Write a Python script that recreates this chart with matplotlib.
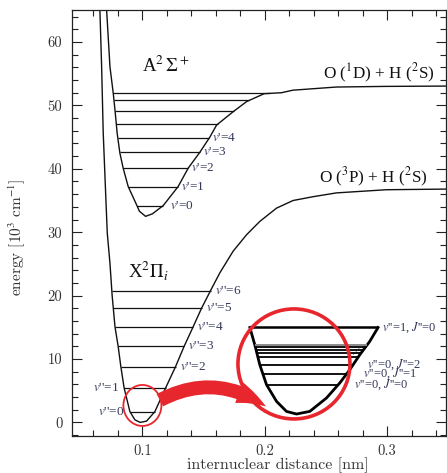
import numpy as np
import matplotlib
matplotlib.use("Agg")
import matplotlib.pyplot as plt
from matplotlib.ticker import MultipleLocator
from matplotlib.patches import Ellipse, FancyArrowPatch, ArrowStyle

plt.rcParams['mathtext.fontset'] = 'stix'
plt.rcParams['font.family'] = ['Liberation Serif', 'DejaVu Serif']

# ---------------- data ----------------
# ground state X^2Pi_i potential curve: r [nm], E [10^3 cm^-1]
X_r = [0.0653, 0.0667, 0.0680, 0.0702, 0.0713, 0.0735, 0.0753, 0.0776, 0.0802,
       0.0824, 0.0851, 0.0898, 0.0939, 0.0982, 0.1034, 0.1102, 0.1189, 0.1271,
       0.1341, 0.1415, 0.1483, 0.1557, 0.1633, 0.1741, 0.1851, 0.1959, 0.2096,
       0.2231, 0.2394, 0.2585, 0.2993, 0.3478]
X_E = [65.0, 56.1, 45.7, 35.1, 29.9, 25.1, 20.0, 15.1, 12.0,
       8.8, 5.4, 1.7, 0.4, 0.0, 0.2, 1.7, 5.4, 8.8,
       12.0, 15.1, 18.0, 20.8, 23.6, 27.0, 29.6, 31.7, 33.8,
       35.0, 35.6, 36.2, 36.7, 36.8]

# excited state A^2Sigma^+ potential curve
A_r = [0.0708, 0.0735, 0.0762, 0.0776, 0.0794, 0.0816, 0.0843, 0.0884, 0.0953,
       0.0976, 0.1026, 0.1082, 0.1170, 0.1292, 0.1374, 0.1469, 0.1551, 0.1606,
       0.1741, 0.1851, 0.1995, 0.2136, 0.2229, 0.2585, 0.2993, 0.3478]
A_E = [65.0, 56.1, 51.9, 49.3, 45.6, 42.5, 40.1, 37.2, 34.3,
       33.3, 32.5, 32.9, 34.2, 37.2, 40.1, 42.6, 45.0, 46.9,
       49.0, 50.6, 51.85, 52.0, 52.4, 52.9, 53.0, 53.05]

# vibrational levels
X_levels = [1.7, 5.4, 8.8, 12.0, 15.1, 18.0, 20.8]
X_labels = ["0", "1", "2", "3", "4", "5", "6"]
A_levels = [34.2, 37.2, 40.1, 42.6, 44.9, 47.1, 49.1, 50.8, 51.9]
A_labels = ["0", "1", "2", "3", "4"]

# magnified inset (schematic) potential and rotational levels
inset_r = [0.1878, 0.1918, 0.1959, 0.2014, 0.2096, 0.2177, 0.2259, 0.2367,
           0.2504, 0.2612, 0.2694, 0.2776, 0.2857, 0.2925]
inset_E = [14.97, 12.25, 9.09, 5.94, 3.31, 1.73, 1.32, 1.73,
           3.85, 6.21, 8.31, 10.67, 12.77, 14.97]
inset_levels = [14.97, 12.25, 11.82, 11.35, 10.87, 10.24, 9.09, 7.63, 5.94]
inset_labels = {14.97: ("1", "0"), 9.09: ("0", "2"), 7.63: ("0", "1"), 5.94: ("0", "0")}

# ---------------- figure ----------------
W, H = 447, 473
fig = plt.figure(figsize=(W / 100, H / 100), dpi=100)
ax = fig.add_axes([72 / W, 1 - 435.7 / H, (446 - 72) / W, 425.7 / H])
ax.set_xlim(0.0425, 0.348)
ax.set_ylim(-2.1, 65.05)

RED = '#e7272d'
LAB = '#34385a'


def branch_ends(r, E, levels):
    r = np.asarray(r); E = np.asarray(E)
    i = int(np.argmin(E))
    lr, le = r[:i + 1][::-1], E[:i + 1][::-1]
    rr, re = r[i:], E[i:]
    return np.interp(levels, le, lr), np.interp(levels, re, rr)


def vlab(sym, primes, val):
    return r"$" + sym + r"$" + "'" * primes + "=" + val


# potential curves
ax.plot(X_r, X_E, color='#111111', lw=1.0, solid_joinstyle='round')
ax.plot(A_r, A_E, color='#111111', lw=1.0, solid_joinstyle='round')

# levels
xl, xr = branch_ends(X_r, X_E, X_levels)
ax.hlines(X_levels, xl, xr, color='#111111', lw=0.9)
al, ar = branch_ends(A_r, A_E, A_levels)
ax.hlines(A_levels, al, ar, color='#111111', lw=0.9)

# level labels
lab_fs = 9.5
for k, lab in enumerate(X_labels):
    txt = vlab("v", 2, lab)
    if k < 2:
        ax.annotate(txt, (xl[k], X_levels[k]), xytext=(-4, 0), textcoords='offset points',
                    ha='right', va='center', fontsize=lab_fs, color=LAB)
    else:
        ax.annotate(txt, (xr[k], X_levels[k]), xytext=(3, 0), textcoords='offset points',
                    ha='left', va='center', fontsize=lab_fs, color=LAB)
for k, lab in enumerate(A_labels):
    off = 5 if k == 0 else 2
    ax.annotate(vlab("v", 1, lab), (ar[k], A_levels[k]), xytext=(off, 0),
                textcoords='offset points', ha='left', va='center',
                fontsize=lab_fs, color=LAB)

# state labels
ax.text(0.0993, 55.3, r"A$^2\,\Sigma^+$", fontsize=13.5, ha='left', va='baseline', color='#111111')
ax.text(0.0884, 22.9, r"X$^2\Pi_i$", fontsize=13.5, ha='left', va='baseline', color='#111111')
ax.text(0.2474, 54.16, r"O ($^1$D) + H ($^2$S)", fontsize=12.3, ha='left', va='baseline', color='#111111')
ax.text(0.2443, 37.73, r"O ($^3$P) + H ($^2$S)", fontsize=12.3, ha='left', va='baseline', color='#111111')

# small red circle and big red circle (pixel radii converted to data units)
px_x = (0.348 - 0.0425) / 374.0
px_y = (65.05 + 2.1) / 425.7
ax.add_patch(Ellipse((0.1000, 2.67), 2 * 19 * px_x, 2 * 20.5 * px_y, fill=False,
                     ec=RED, lw=1.3, zorder=4))
# inset curve & levels
il, ir = branch_ends(inset_r, inset_E, inset_levels)
ax.plot(inset_r, inset_E, color='black', lw=2.0, zorder=5, solid_joinstyle='round')
for k, e in enumerate(inset_levels):
    if k == 0:
        c, lw = 'black', 1.8
    elif k == 1:
        c, lw = '#8a8a8a', 1.4
    else:
        c, lw = 'black', 1.3
    ax.hlines(e, il[k], ir[k], color=c, lw=lw, zorder=5)
offs = {14.97: 3, 9.09: 10, 7.63: 12, 5.94: 11}
for e, (vv, jj) in inset_labels.items():
    k = inset_levels.index(e)
    t = vlab("v", 2, vv) + ", " + vlab("J", 2, jj)
    ax.annotate(t, (ir[k], e), xytext=(offs[e], 0), textcoords='offset points',
                ha='left', va='center', fontsize=9, color=LAB, zorder=6)
ax.text(0.2745, 11.2, "⋰", fontsize=6, color='#777777', ha='center', va='center', zorder=6,
        family='DejaVu Sans')

ax.add_patch(Ellipse((0.2238, 9.22), 2 * 56 * px_x, 2 * 55 * px_y, fill=False,
                     ec=RED, lw=2.6, zorder=6))

# curved red arrow
arrow = FancyArrowPatch((0.1143, 3.5), (0.2010, 2.5),
                        arrowstyle=ArrowStyle.Simple(head_length=22, head_width=16, tail_width=10),
                        connectionstyle='arc3,rad=-0.3', color=RED, lw=0,
                        shrinkA=0, shrinkB=0, zorder=7, mutation_scale=1)
ax.add_patch(arrow)

# axes styling
ax.xaxis.set_major_locator(MultipleLocator(0.1))
ax.xaxis.set_minor_locator(MultipleLocator(0.02))
ax.yaxis.set_major_locator(MultipleLocator(10))
ax.yaxis.set_minor_locator(MultipleLocator(2))
ax.tick_params(which='both', direction='in', top=True, right=True, width=0.8, colors='#222222')
ax.tick_params(which='major', length=7)
ax.tick_params(which='minor', length=4)
ax.tick_params(axis='y', pad=7)
ax.tick_params(axis='x', pad=6)
for lab in ax.get_xticklabels() + ax.get_yticklabels():
    lab.set_fontfamily('cmr10')
    lab.set_fontsize(10.5)
    lab.set_color('#333333')
for s in ax.spines.values():
    s.set_linewidth(0.9)
    s.set_color('#222222')

fig.text(277.5 / W, 1 - 465.5 / H, "internuclear distance [nm]", ha='center', va='center',
         fontsize=11.5, family='cmr10', color='#333333')
fig.text(17 / W, 1 - 237.5 / H, r"energy [10$^3$ cm$^{-1}$]", ha='center', va='center',
         rotation=90, fontsize=11, family='cmr10', color='#333333')

fig.savefig("out.png", dpi=100)
